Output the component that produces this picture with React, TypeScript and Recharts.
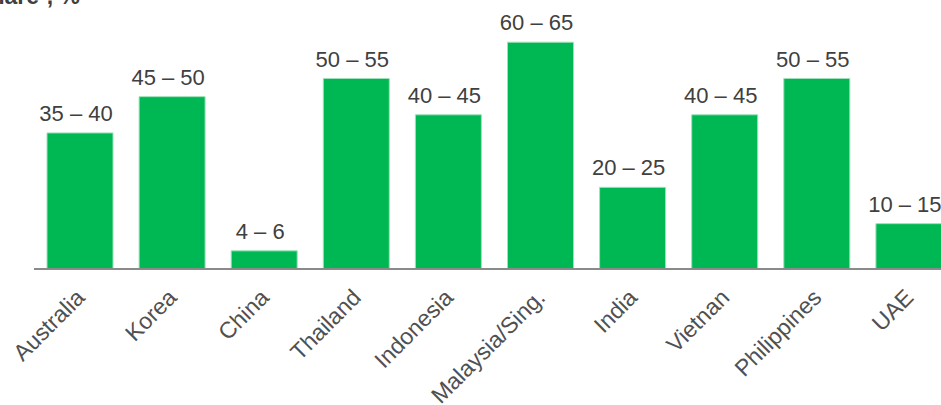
import React from "react";
import { BarChart, Bar, XAxis, YAxis, LabelList } from "recharts";

const categories = ["Australia", "Korea", "China", "Thailand", "Indonesia", "Malaysia/Sing.", "India", "Vietnan", "Philippines", "UAE"];
const rangeLabels = ["35 – 40", "45 – 50", "4 – 6", "50 – 55", "40 – 45", "60 – 65", "20 – 25", "40 – 45", "50 – 55", "10 – 15"];
const midValues = [37.5, 47.5, 5, 52.5, 42.5, 62.5, 22.5, 42.5, 52.5, 12.5];
const titleText = "Market share¹, %";

const data = categories.map((c, i) => ({ name: c, value: midValues[i], label: rangeLabels[i] }));

const FONT = "Arial, 'Liberation Sans', sans-serif";

const Tick = (props: any) => {
  const { x, y, payload } = props;
  const ax = x + 6;
  const ay = y + 22;
  return (
    <text
      x={ax}
      y={ay}
      transform={`rotate(-45, ${ax}, ${ay})`}
      textAnchor="end"
      fill="#505050"
      fontSize={23}
      fontFamily={FONT}
    >
      {payload.value}
    </text>
  );
};

export default function App() {
  return (
    <div style={{ position: "absolute", left: 0, top: 0, width: 941, height: 405, overflow: "hidden", background: "#fff" }}>
      <div
        style={{
          position: "absolute",
          right: 941 - 80,
          top: -15,
          fontFamily: FONT,
          fontWeight: "bold",
          fontSize: 23,
          lineHeight: "22px",
          color: "#404040",
          whiteSpace: "nowrap",
        }}
      >
        {titleText}
      </div>
      <div style={{ position: "absolute", left: 0, top: 0 }}>
        <BarChart
          width={960}
          height={405}
          data={data}
          margin={{ top: 15, right: 5, left: 34, bottom: 0 }}
          barSize={66}
        >
          <YAxis hide domain={[0, 70]} />
          <XAxis
            dataKey="name"
            height={136}
            interval={0}
            tickLine={false}
            axisLine={{ stroke: "#8a8a8a", strokeWidth: 2 }}
            tick={<Tick />}
          />
          <Bar dataKey="value" fill="#00B853" stroke="#9FE0BA" strokeWidth={1} isAnimationActive={false}>
            <LabelList
              dataKey="label"
              position="top"
              offset={12}
              dx={-4}
              fill="#404040"
              fontSize={22}
              fontFamily={FONT}
            />
          </Bar>
        </BarChart>
      </div>
    </div>
  );
}
